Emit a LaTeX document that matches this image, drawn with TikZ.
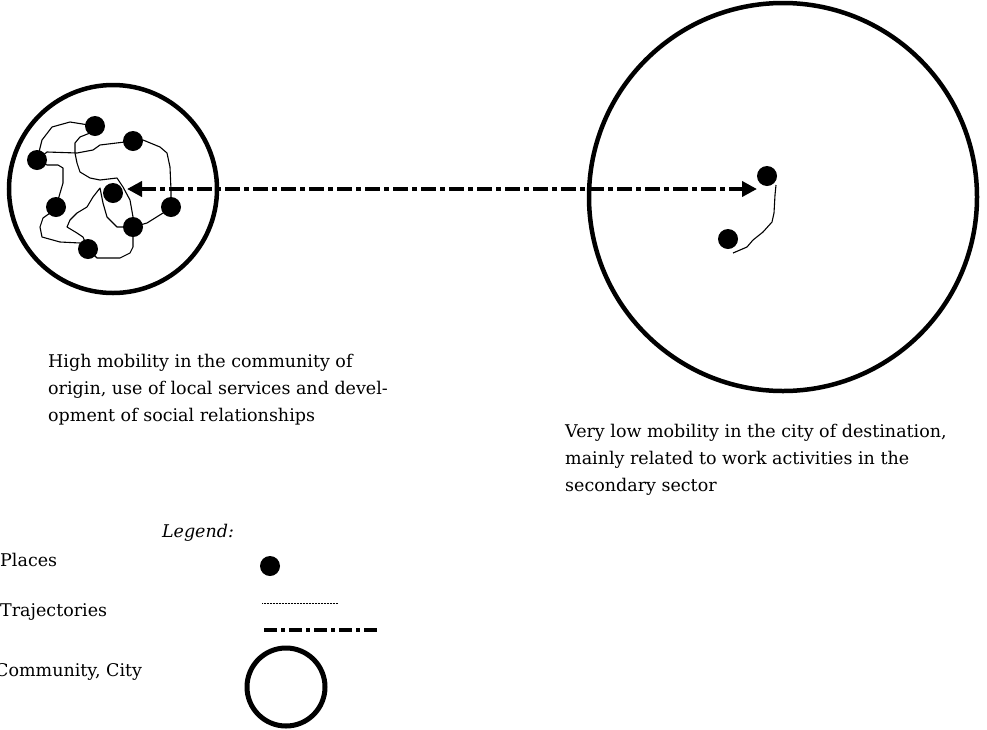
\documentclass[tikz,border=0pt]{standalone}
\usepackage{fontspec}
\setmainfont{DejaVu Serif}
\usetikzlibrary{arrows.meta}
\tikzset{
  place/.style={circle,fill=black,inner sep=0pt,minimum size=20pt},
  region/.style={draw=black,line width=4.5pt},
  traj/.style={draw=black,line width=1.1pt,line join=round},
  flow/.style={draw=black,line width=4pt,dash pattern=on 15pt off 4pt on 5pt off 4pt},
  caption/.style={anchor=west,align=left,inner sep=0pt,font=\fontsize{17.5}{27}\selectfont},
  legtext/.style={anchor=west,inner sep=0pt,font=\fontsize{17.5}{20}\selectfont}
}
\begin{document}
\begin{tikzpicture}[x=1pt,y=-1pt]
\useasboundingbox (0,0) rectangle (987,729);
% regions
\draw[region] (113,189) circle (104);
\draw[region] (783,197) circle (194);
% places in community of origin
\node[place] (p1) at (95,126) {};
\node[place] (p2) at (133,141) {};
\node[place] (p3) at (37,160) {};
\node[place] (p4) at (113,193) {};
\node[place] (p5) at (171,207) {};
\node[place] (p6) at (56,207) {};
\node[place] (p7) at (133,227) {};
\node[place] (p8) at (88,249) {};
% places in city
\node[place] (q1) at (767,176) {};
\node[place] (q2) at (728,239) {};
% trajectories in community
\draw[traj] (p1.center) -- (70,122) -- (52,127) -- (42,140) -- (p3.center);
\draw[traj] (p3.center) -- (47,152) -- (77,153) -- (93,150) -- (100,145) -- (p2.center);
\draw[traj] (p2.center) -- (143,140) -- (160,147) -- (167,153) -- (170,167) -- (171,190) -- (p5.center);
\draw[traj] (p5.center) -- (163,213) -- (147,223) -- (p7.center);
\draw[traj] (p7.center) -- (117,227) -- (107,217) -- (103,203) -- (100,188) -- (93,197) -- (87,207) -- (77,213) -- (70,220) -- (67,227) -- (77,233) -- (83,237) -- (p8.center);
\draw[traj] (p1.center) -- (90,133) -- (80,137) -- (75,143) -- (75,153) -- (77,163) -- (80,172) -- (90,178) -- (100,180) -- (117,178) -- (123,187) -- (130,200) -- (133,217) -- (133,247) -- (130,253) -- (120,258) -- (97,258) -- (p8.center);
\draw[traj] (p3.center) -- (47,165) -- (58,165) -- (63,168) -- (63,183) -- (58,200) -- (p6.center);
\draw[traj] (p6.center) -- (50,213) -- (43,218) -- (40,227) -- (42,237) -- (60,242) -- (80,243) -- (p8.center);
% trajectory in city
\coordinate (q1s) at (776,185);
\draw[traj] (q1s) -- (775,195) -- (774,213) -- (772,222) -- (763,232) -- (753,240) -- (747,247) -- (733,253);
% commuting flow
\coordinate (fl) at (127,189);
\coordinate (fr) at (757,189);
\draw[flow,{Triangle[length=15pt,width=15pt]}-{Triangle[length=15pt,width=15pt]}] (fl) -- (fr);
% captions
\node[caption] (c1) at (48,390) {High mobility in the community of\\origin, use of local services and devel-\\opment of social relationships};
\node[caption] (c2) at (565,460) {Very low mobility in the city of destination,\\mainly related to work activities in the\\secondary sector};
% legend
\node[legtext,anchor=center,font=\fontsize{17.5}{20}\selectfont\itshape] (lg) at (198,533) {Legend:};
\node[legtext] (l1) at (0,560) {Places};
\node[legtext] (l2) at (0,612) {Trajectories};
\node[legtext] (l3) at (-5,672) {Community, City};
\node[place] (ld) at (270,566) {};
\coordinate (t1a) at (262,603);
\coordinate (t1b) at (338,603);
\draw[line width=0.9pt,dash pattern=on 1pt off 0.5pt] (t1a) -- (t1b);
\coordinate (t2a) at (264,630);
\coordinate (t2b) at (380,630);
\draw[line width=3.5pt,dash pattern=on 13pt off 4pt on 4pt off 4pt] (t2a) -- (t2b);
\node[circle,draw=black,line width=5pt,minimum size=78pt,inner sep=0pt] (lc) at (286,687) {};
\end{tikzpicture}
\end{document}
